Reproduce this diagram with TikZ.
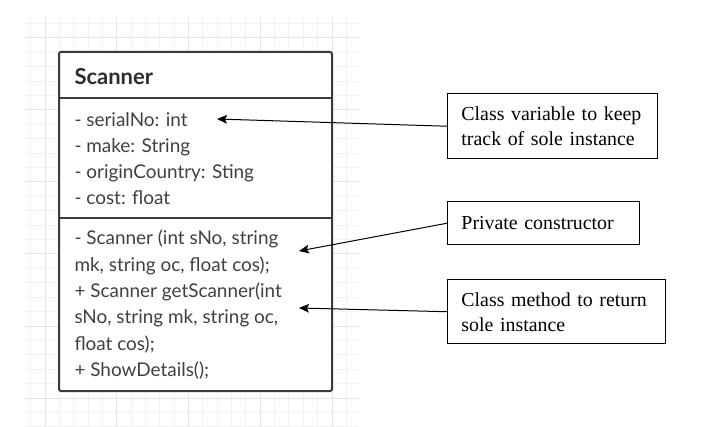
\documentclass[tikz,border=0pt]{standalone}
\usepackage{fontspec}
\setmainfont{Liberation Serif}
\newfontfamily\latofont{Lato}
\usetikzlibrary{arrows.meta}

\tikzset{every picture/.style={line width=0.75pt}}
\tikzset{
  gridminor/.style={draw={rgb, 255:red, 242; green, 242; blue, 242 }},
  gridmajor/.style={draw={rgb, 255:red, 228; green, 228; blue, 228 }},
  umlline/.style={draw={rgb, 255:red, 58; green, 58; blue, 58 }, line width=1.5pt},
  umltext/.style={anchor=base west, inner sep=0pt, text={rgb, 255:red, 64; green, 64; blue, 64 }, font=\latofont\fontsize{14.2}{17}\selectfont},
  umltitle/.style={umltext, text={rgb, 255:red, 45; green, 45; blue, 45 }, font=\latofont\bfseries\fontsize{16.5}{20}\selectfont},
  notebox/.style={draw, line width=1.1pt, anchor=north west, align=left, inner xsep=10.3pt, inner ysep=0pt, font=\fontsize{14.9}{18.75}\selectfont},
  notearrow/.style={-{Stealth[length=7.5pt, width=6.5pt, inset=1.5pt]}, line width=0.75pt}
}

\begin{document}
\begin{tikzpicture}[x=0.75pt,y=0.75pt,yscale=-1,xscale=1]
\useasboundingbox (0,0) rectangle (702,427);

%Grid
\foreach \i in {0,...,22} \draw[gridminor] ({30.65+14.35*\i},17) -- ({30.65+14.35*\i},427);
\foreach \j in {0,...,28} \draw[gridminor] (24,{23.6+14.4*\j}) -- (359,{23.6+14.4*\j});
\foreach \i in {0,...,4} \draw[gridmajor] ({45+71.75*\i},17) -- ({45+71.75*\i},427);
\foreach \j in {0,...,5} \draw[gridmajor] (24,{38+72*\j}) -- (359,{38+72*\j});

%Shape: Class box
\draw[umlline, fill=white, rounded corners=1.5pt] (59,52) rectangle (332,391);
%Straight Lines
\draw[umlline] (59,98) -- (332,98);
%Straight Lines
\draw[umlline] (59,218) -- (332,218);

% Text Node
\node[umltitle] (title) at (74,85) {Scanner};
% Text Node
\node[umltext] (attr1) at (74,127) {- serialNo: int};
\node[umltext] (attr2) at (74,153) {- make: String};
\node[umltext] (attr3) at (74,179) {- originCountry: Sting};
\node[umltext] (attr4) at (74,205) {- cost: float};
% Text Node
\node[umltext] (op1) at (74,245) {- Scanner (int sNo, string};
\node[umltext] (op2) at (74,271.5) {mk, string oc, float cos);};
\node[umltext] (op3) at (74,297.5) {+ Scanner getScanner(int};
\node[umltext] (op4) at (74,323.5) {sNo, string mk, string oc,};
\node[umltext] (op5) at (74,350) {float cos);};
\node[umltext] (op6) at (74,376) {+ ShowDetails();};

% Note boxes
\node[notebox, text width=136.9pt, minimum height=48.75pt] (varnote) at (447,93) {Class variable to keep\\track of sole instance};
\node[notebox, text width=123.4pt, minimum height=32.25pt] (ctornote) at (447,201) {Private constructor};
\node[notebox, text width=142.9pt, minimum height=48pt] (methodnote) at (447,279) {Class method to return\\sole instance};

% Arrow targets
\coordinate (serialtip) at (217,119);
\coordinate (ctortip) at (299,251);
\coordinate (gettip) at (299,308);

%Straight Lines
\draw[notearrow] (varnote.west) -- (serialtip);
\draw[notearrow] (ctornote.west) -- (ctortip);
\draw[notearrow] (methodnote.west) -- (gettip);

\end{tikzpicture}
\end{document}
